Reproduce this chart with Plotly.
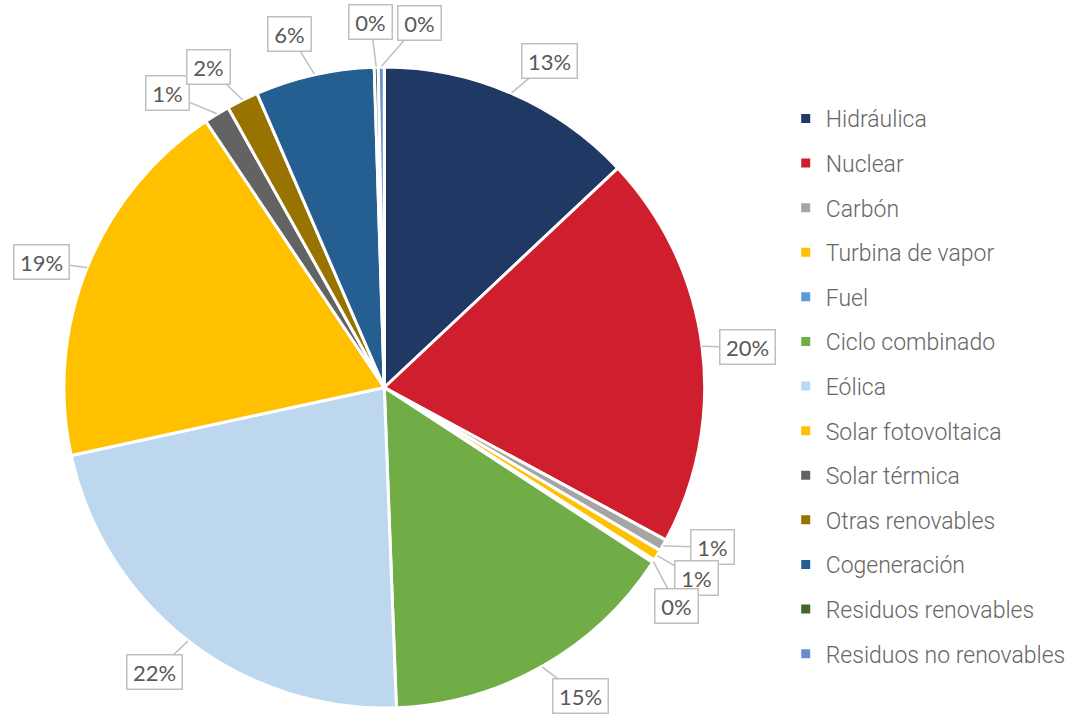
import math
import plotly.graph_objects as go

categories = ["Hidráulica", "Nuclear", "Carbón", "Turbina de vapor", "Fuel",
              "Ciclo combinado", "Eólica", "Solar fotovoltaica", "Solar térmica",
              "Otras renovables", "Cogeneración", "Residuos renovables",
              "Residuos no renovables"]
values = [13.0, 19.9, 0.6, 0.55, 0.15, 15.2, 22.2, 19.0, 1.3, 1.6, 6.0, 0.2, 0.3]
colors = ["#203864", "#CF1F2E", "#A5A5A5", "#FFC000", "#5B9BD5", "#70AD47",
          "#BDD7EE", "#FFC000", "#636363", "#997300", "#255E91", "#43682B",
          "#698ED0"]
# angular nudges (degrees) for the callout boxes, to avoid overlaps
label_nudge = [3.5, 1.1, -3.6, -0.2, 3.9, -3.0, 1.1, -1.9, -4.9, -2.5, -2.4, -0.7, 6.0]

W, H = 1071, 714
cx, cy, R = 385, 387.5, 321

fig = go.Figure()
fig.add_trace(go.Pie(
    labels=categories, values=values, sort=False, direction="clockwise", rotation=0,
    marker=dict(colors=colors, line=dict(color="white", width=3)),
    textinfo="none", showlegend=False, hoverinfo="label+percent",
    domain=dict(x=[(cx - R) / W, (cx + R) / W], y=[1 - (cy + R) / H, 1 - (cy - R) / H]),
))

# legend entries (one group per category so spacing can be controlled)
for name, col in zip(categories, colors):
    fig.add_trace(go.Scatter(
        x=[None], y=[None], mode="markers", name=name, legendgroup=name,
        marker=dict(symbol="square", size=9, color=col),
    ))

total = sum(values)
cum = 0.0
for v, nudge in zip(values, label_nudge):
    mid = (cum + v / 2) / total * 360
    cum += v
    a = math.radians(mid)
    tipx = cx + R * math.sin(a)
    tipy = cy - R * math.cos(a)
    b = math.radians(mid + nudge)
    bx = cx + 1.14 * R * math.sin(b)
    by = cy - 1.14 * R * math.cos(b)
    txt = f"{round(v / total * 100)}%"
    fig.add_annotation(
        x=tipx / W, y=1 - tipy / H, xref="paper", yref="paper",
        ax=bx - tipx, ay=by - tipy, axref="pixel", ayref="pixel",
        text=txt, showarrow=True, arrowhead=0, arrowwidth=1.5, arrowcolor="#BFBFBF",
        standoff=0, startstandoff=0,
        bordercolor="#BFBFBF", borderwidth=1.5, borderpad=3, bgcolor="white",
        width=12 * len(txt) + 12, height=27,
        font=dict(family="Lato", size=22, color="#595959"),
    )

fig.update_layout(
    width=W, height=H, margin=dict(l=0, r=0, t=0, b=0),
    paper_bgcolor="white", plot_bgcolor="white",
    xaxis=dict(visible=False), yaxis=dict(visible=False),
    legend=dict(x=0.735, y=1 - 97 / H, xanchor="left", yanchor="top",
                traceorder="grouped", tracegroupgap=11.7,
                font=dict(family="Roboto", weight=300, size=23,
                          color="#666666")),
)

fig.write_html("out.html", config={"displayModeBar": False},
               post_script="document.body.style.margin='0';document.body.style.overflow='hidden';")
